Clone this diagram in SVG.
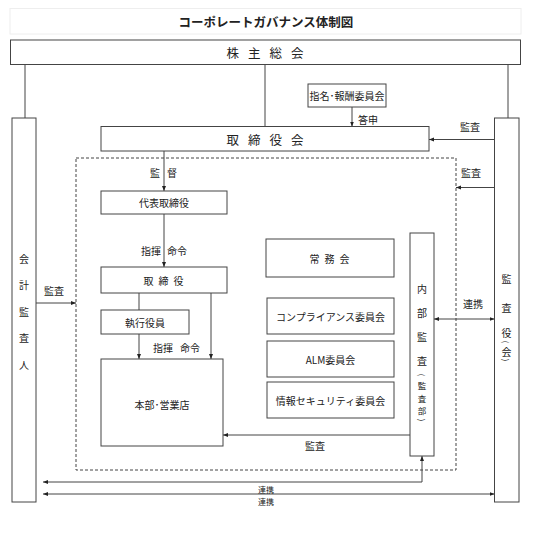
<svg xmlns="http://www.w3.org/2000/svg" width="533" height="533" viewBox="0 0 533 533">
<style>
text{font-family:"Noto Sans CJK JP","Noto Sans",sans-serif;fill:#222;font-size:10px;text-anchor:middle;dominant-baseline:central}
.box{fill:#fff;stroke:#444;stroke-width:1}
.ln{fill:none;stroke:#444;stroke-width:1}
.big{font-size:12.5px;letter-spacing:9px}
.sm{font-size:8px}
.vs{font-size:8.5px}
</style>
<defs>
<marker id="ah" viewBox="0 0 10 10" refX="10" refY="5" markerWidth="5" markerHeight="5" orient="auto-start-reverse"><path d="M0,1 L10,5 L0,9 Z" fill="#222"/></marker>
</defs>
<rect x="10" y="8.5" width="511" height="25.5" fill="#fff" stroke="#eee"/>
<text x="266" y="21.5" style="font-size:12.5px;font-weight:bold">コーポレートガバナンス体制図</text>
<g id="connectors">
<line class="ln" x1="25" y1="64.5" x2="25" y2="118"/>
<line class="ln" x1="265" y1="64.5" x2="265" y2="126.5"/>
<line class="ln" x1="508" y1="64.5" x2="508" y2="118"/>
<line class="ln" x1="352" y1="107" x2="352" y2="126.5" marker-end="url(#ah)"/>
<line class="ln" x1="494.5" y1="139.5" x2="429" y2="139.5" marker-end="url(#ah)"/>
<line class="ln" x1="494.5" y1="187.5" x2="456" y2="187.5" marker-end="url(#ah)"/>
<line class="ln" x1="164" y1="151" x2="164" y2="191" marker-end="url(#ah)"/>
<line class="ln" x1="164" y1="214" x2="164" y2="267" marker-end="url(#ah)"/>
<line class="ln" x1="139" y1="293" x2="139" y2="310"/>
<line class="ln" x1="139" y1="334" x2="139" y2="359" marker-end="url(#ah)"/>
<line class="ln" x1="211" y1="293" x2="211" y2="359" marker-end="url(#ah)"/>
<line class="ln" x1="36" y1="303" x2="76" y2="303" marker-end="url(#ah)"/>
<line class="ln" x1="410" y1="435" x2="223" y2="435" marker-end="url(#ah)"/>
<line class="ln" x1="434" y1="319" x2="494.5" y2="319" marker-start="url(#ah)" marker-end="url(#ah)"/>
<path class="ln" d="M43,482 H422 V456" marker-start="url(#ah)" marker-end="url(#ah)"/>
<line class="ln" x1="43" y1="494" x2="494.5" y2="494" marker-start="url(#ah)" marker-end="url(#ah)"/>
</g>
<g id="labels">
<text x="368" y="119">答申</text>
<text x="470" y="126">監査</text>
<text x="471" y="172">監査</text>
<text x="155" y="172">監</text>
<text x="172" y="172">督</text>
<text x="151" y="250">指揮</text>
<text x="177" y="250">命令</text>
<text x="163" y="347">指揮</text>
<text x="190" y="347">命令</text>
<text x="54" y="290">監査</text>
<text x="473" y="303">連携</text>
<text x="315" y="445">監査</text>
<text class="sm" x="266" y="489">連携</text>
<text class="sm" x="266" y="501">連携</text>
</g>
<g id="n_kabunushi"><rect class="box" x="10.5" y="40" width="510" height="24.5"/><text class="big" x="269.5" y="52.5">株主総会</text></g>
<g id="n_shimei"><rect class="box" x="308" y="84" width="78" height="23"/><text x="347" y="95.5">指名･報酬委員会</text></g>
<g id="n_torishimariyakukai"><rect class="box" x="101" y="126.5" width="328" height="24.5"/><text class="big" x="269.5" y="139">取締役会</text></g>
<g id="n_kaikei"><rect class="box" x="12" y="118" width="24" height="384"/>
<text x="24" y="258">会</text><text x="24" y="284">計</text><text x="24" y="311">監</text><text x="24" y="337">査</text><text x="24" y="364">人</text></g>
<g id="n_kansayaku"><rect class="box" x="494.5" y="118" width="24.5" height="384"/>
<text x="506.5" y="278">監</text><text x="506.5" y="307">査</text><text x="506.5" y="332">役</text>
<text x="506.5" y="342" transform="rotate(90 506.5 342)" style="font-size:8px">(</text><text x="506.5" y="351">会</text><text x="506.5" y="360" transform="rotate(90 506.5 360)" style="font-size:8px">)</text></g>
<g id="n_daihyo"><rect class="box" x="101" y="191" width="126" height="23"/><text x="164" y="202.5">代表取締役</text></g>
<g id="n_torishimariyaku"><rect class="box" x="101" y="267" width="126" height="26"/><text x="166" y="280" style="letter-spacing:5px">取締役</text></g>
<g id="n_shikko"><rect class="box" x="101" y="310" width="88" height="24"/><text x="145" y="322">執行役員</text></g>
<g id="n_honbu"><rect class="box" x="101" y="359" width="122" height="87"/><text x="162" y="404">本部･営業店</text></g>
<g id="n_jomu"><rect class="box" x="266" y="239" width="128" height="38"/><text x="332" y="258" style="letter-spacing:5px">常務会</text></g>
<g id="n_comp"><rect class="box" x="267" y="298" width="127" height="36"/><text x="330.5" y="316">コンプライアンス委員会</text></g>
<g id="n_alm"><rect class="box" x="267" y="341" width="127" height="36"/><text x="330.5" y="359">ALM委員会</text></g>
<g id="n_joho"><rect class="box" x="267" y="382" width="127" height="36"/><text x="330.5" y="400">情報セキュリティ委員会</text></g>
<g id="n_naibu"><rect class="box" x="410" y="233" width="24" height="223"/>
<text x="422" y="288">内</text><text x="422" y="312">部</text><text x="422" y="336">監</text><text x="422" y="360">査</text>
<text x="422" y="375" transform="rotate(90 422 375)" style="font-size:8px">(</text><text class="vs" x="422" y="385">監</text><text class="vs" x="422" y="397.5">査</text><text class="vs" x="422" y="410">部</text><text x="422" y="420" transform="rotate(90 422 420)" style="font-size:8px">)</text></g>
<g id="scope"><rect x="76" y="158" width="380" height="312" fill="none" stroke="#444" stroke-width="1" stroke-dasharray="3,2"/></g>
</svg>
